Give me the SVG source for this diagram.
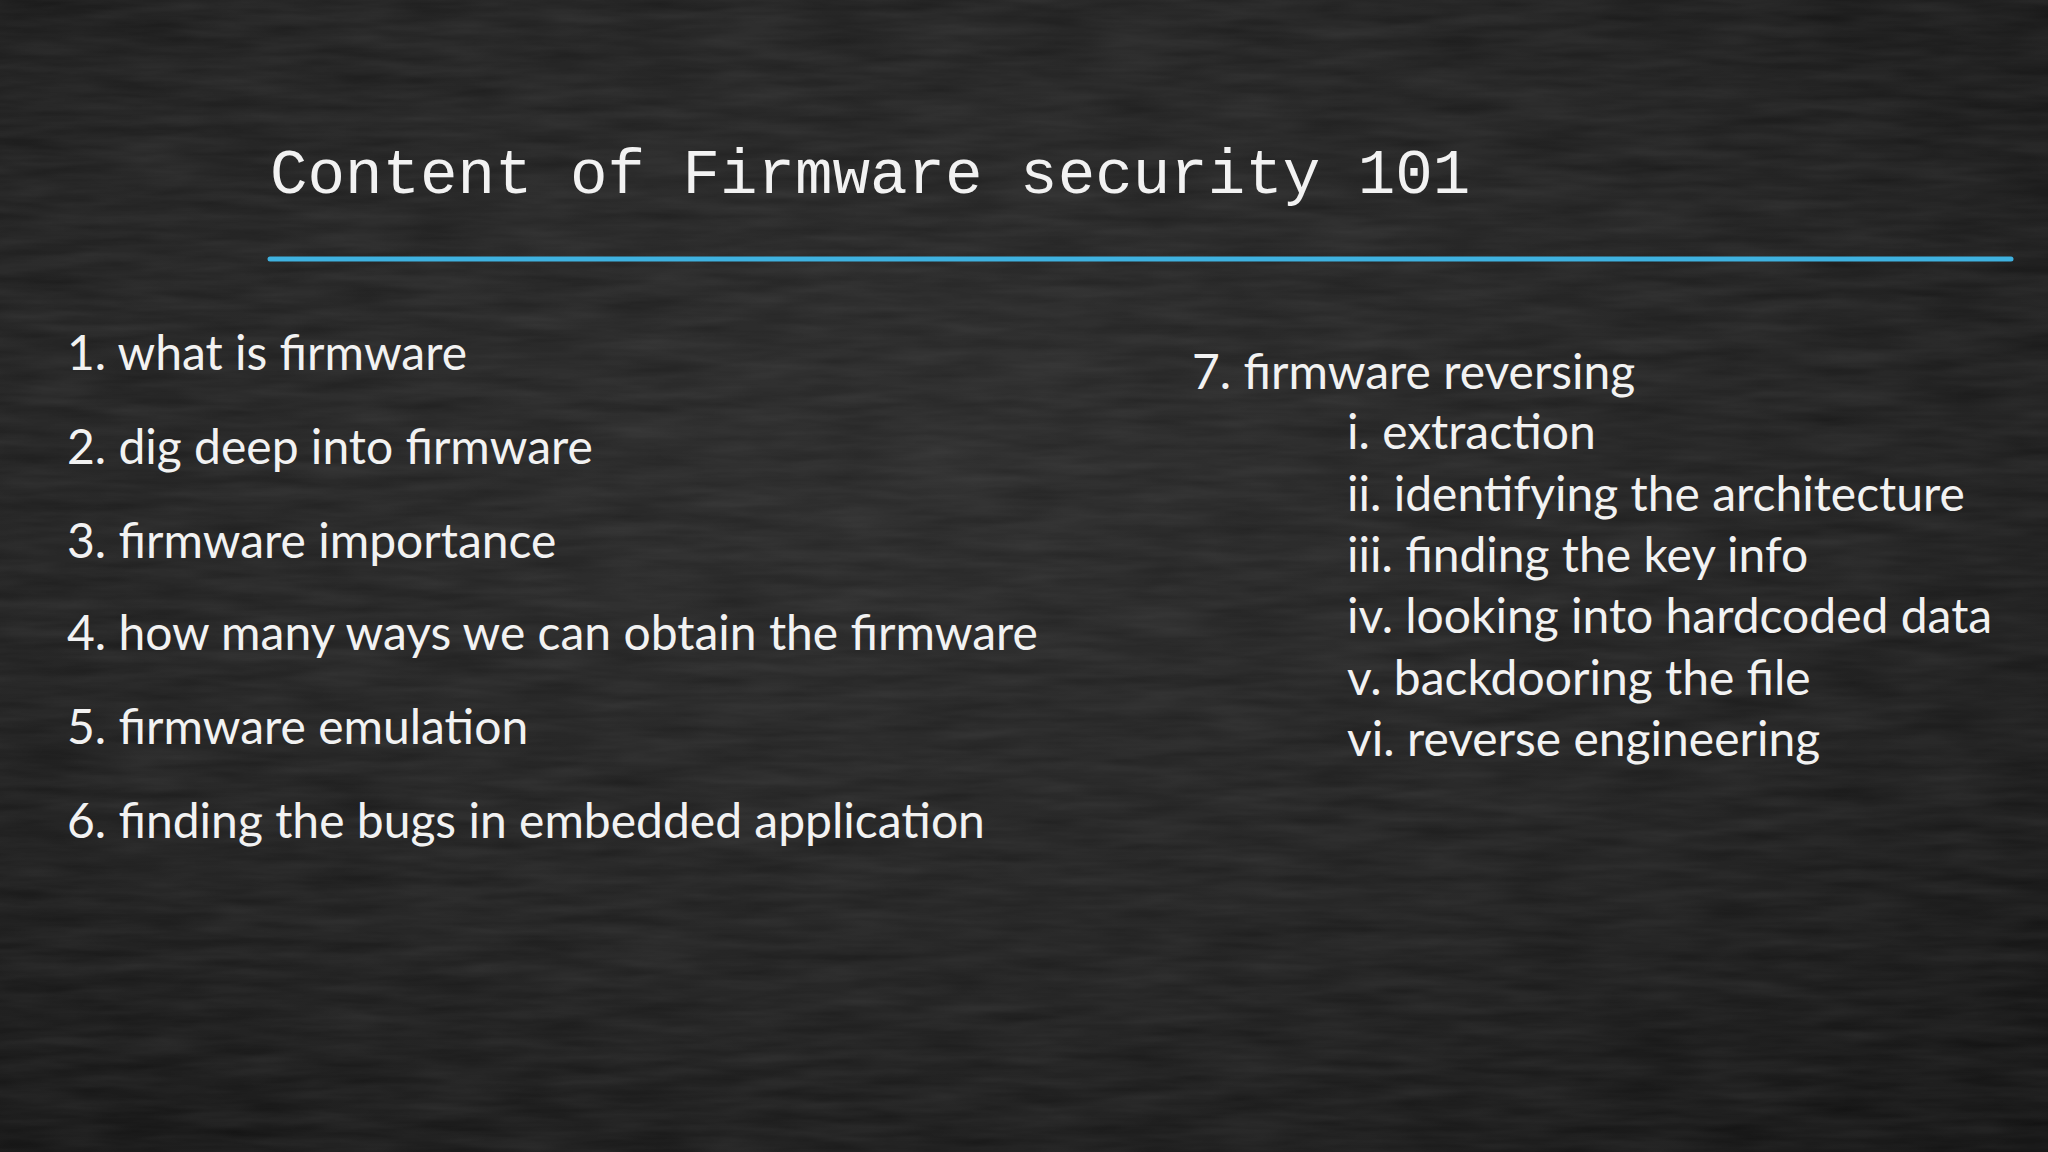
<svg xmlns="http://www.w3.org/2000/svg" width="2048" height="1152" viewBox="0 0 2048 1152">
<defs>
<radialGradient id="bg" cx="0.45" cy="0.4" r="0.8">
<stop offset="0" stop-color="#262626"/>
<stop offset="0.6" stop-color="#1c1c1c"/>
<stop offset="1" stop-color="#0e0e0e"/>
</radialGradient>
<filter id="noise"><feTurbulence type="fractalNoise" baseFrequency="0.01 0.08" numOctaves="3" seed="4"/><feColorMatrix values="0 0 0 0 1  0 0 0 0 1  0 0 0 0 1  0 0 0 0.1 0"/></filter>
<style>
.t{font-family:Lato,"Open Sans",sans-serif;font-size:48px;fill:#f2f2f2}
</style>
</defs>
<rect width="2048" height="1152" fill="url(#bg)"/>
<rect width="2048" height="1152" filter="url(#noise)"/>
<g id="title"><text x="270" y="193" font-family="Liberation Mono,monospace" font-size="62.5" fill="#f2f2f2">Content of Firmware security 101</text></g>
<g id="rule"><line x1="270" y1="259" x2="2011" y2="259" stroke="#3fb2e0" stroke-width="5" stroke-linecap="round"/></g>
<g id="left">
<text class="t" x="67" y="370">1. what is firmware</text>
<text class="t" x="67" y="464">2. dig deep into firmware</text>
<text class="t" x="67" y="558">3. firmware importance</text>
<text class="t" x="67" y="650">4. how many ways we can obtain the firmware</text>
<text class="t" x="67" y="744">5. firmware emulation</text>
<text class="t" x="67" y="838">6. finding the bugs in embedded application</text>
</g>
<g id="right">
<text class="t" x="1192" y="389">7. firmware reversing</text>
<text class="t" x="1347" y="449">i. extraction</text>
<text class="t" x="1347" y="511">ii. identifying the architecture</text>
<text class="t" x="1347" y="572">iii. finding the key info</text>
<text class="t" x="1347" y="633">iv. looking into hardcoded data</text>
<text class="t" x="1347" y="695">v. backdooring the file</text>
<text class="t" x="1347" y="756">vi. reverse engineering</text>
</g>
</svg>
